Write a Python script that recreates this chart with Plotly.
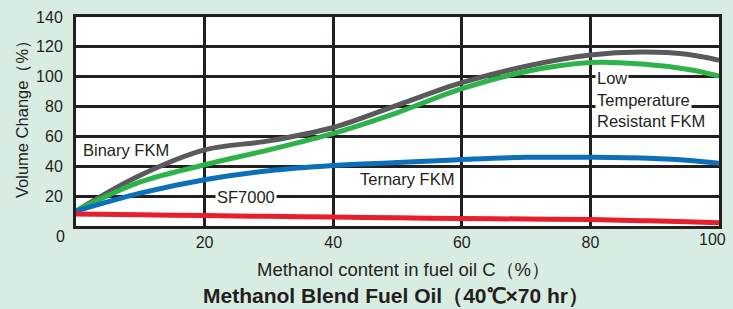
import plotly.graph_objects as go

# ---- data ----
x_vals = [0, 10, 20, 30, 40, 50, 60, 70, 80, 88, 95, 100]
binary_fkm = [10, 34, 51, 57, 66, 81, 96, 107, 114.5, 116.5, 115, 111]
low_temp_fkm = [10, 29.5, 41, 51, 62, 76, 92, 103.5, 109.5, 108.5, 105, 100.5]
ternary_fkm = [10, 22, 31, 37, 40.5, 42.5, 44.5, 46, 46, 45.5, 44, 42]
sf7000 = [8, 7.5, 7, 6.5, 6, 5.5, 5, 4.7, 4.3, 3.6, 2.8, 2.2]

x_ticks = [20, 40, 60, 80, 100]
x_tick_labels = ["20", "40", "60", "80", "100"]
y_ticks = [20, 40, 60, 80, 100, 120, 140]

W, H = 733, 309
L, R, T, B = 76, 14, 17, 83
PW, PH = W - L - R, H - T - B

def px(xp):
    return (xp - L) / PW

def py(yp):
    return (H - B - yp) / PH

INK = "#231f20"
FONT = "Liberation Sans, Arial, Helvetica, sans-serif"

fig = go.Figure()
series = [
    ("Binary FKM", binary_fkm, "#5a5a5c"),
    ("Low Temperature Resistant FKM", low_temp_fkm, "#2db34a"),
    ("Ternary FKM", ternary_fkm, "#0b6fba"),
    ("SF7000", sf7000, "#e61f2b"),
]
for name, ys, col in series:
    fig.add_trace(go.Scatter(x=x_vals, y=ys, mode="lines", name=name,
                             line=dict(color=col, width=5, shape="spline", smoothing=1.0),
                             showlegend=False, hoverinfo="skip"))

fig.update_layout(
    width=W, height=H,
    margin=dict(l=L, r=R, t=T, b=B, pad=0),
    paper_bgcolor="#d9ece2",
    plot_bgcolor="white",
    font=dict(family=FONT, color=INK, size=16),
    showlegend=False,
)
# last tick label ("100") is drawn as an annotation, nudged left like the reference
shown_tick_text = x_tick_labels[:-1] + [""]
fig.update_xaxes(range=[0, 100], tickvals=x_ticks, ticktext=shown_tick_text,
                 showgrid=True, gridcolor=INK, gridwidth=2.5,
                 showline=True, linecolor=INK, linewidth=3, mirror=True, zeroline=False,
                 automargin=False, ticks="", ticklabelstandoff=0, tickfont=dict(size=16, color=INK))
fig.update_yaxes(range=[0, 140], tickvals=y_ticks, showgrid=True, gridcolor=INK, gridwidth=2.5,
                 showline=True, linecolor=INK, linewidth=3, mirror=True, zeroline=False,
                 automargin=False, ticks="", ticklabelstandoff=7, tickfont=dict(size=16, color=INK))

ann = []
ann.append(dict(x=px(60), y=py(236), xref="paper", yref="paper", text="0", showarrow=False,
                font=dict(size=16, color=INK), xanchor="center", yanchor="middle"))
ann.append(dict(x=px(712), y=py(240), xref="paper", yref="paper", text=x_tick_labels[-1],
                showarrow=False, font=dict(size=16, color=INK), xanchor="center", yanchor="middle"))
ann.append(dict(x=px(403), y=py(269), xref="paper", yref="paper",
                text="Methanol content in fuel oil C（%）", showarrow=False,
                font=dict(size=18.5, color=INK), xanchor="center", yanchor="middle"))
ann.append(dict(x=px(22), y=py(115), xref="paper", yref="paper",
                text="Volume Change（%）", showarrow=False, textangle=-90,
                font=dict(size=16.5, color=INK), xanchor="center", yanchor="middle"))
ann.append(dict(x=px(396), y=py(295.5), xref="paper", yref="paper",
                text="<b>Methanol Blend Fuel Oil（40℃×70 hr）</b>", showarrow=False,
                font=dict(size=21, color=INK), xanchor="center", yanchor="middle", borderpad=0))

def lab(text, xp, yp, bg=None):
    d = dict(x=px(xp), y=py(yp), xref="paper", yref="paper", text=text, showarrow=False,
             font=dict(size=16.5, color=INK), xanchor="left", yanchor="middle", borderpad=1)
    if bg:
        d["bgcolor"] = bg
    return d

ann.append(lab("Binary FKM", 81, 150))
ann.append(lab("SF7000", 215, 197, "white"))
ann.append(lab("Ternary FKM", 358, 179))
ann.append(lab("Low", 595, 78, "white"))
ann.append(lab("Temperature", 595, 100, "white"))
ann.append(lab("Resistant FKM", 595, 121, "white"))

fig.update_layout(annotations=ann)
fig.write_html("out.html", config={"displayModeBar": False},
               post_script="document.body.style.margin='0';document.body.style.overflow='hidden';")
